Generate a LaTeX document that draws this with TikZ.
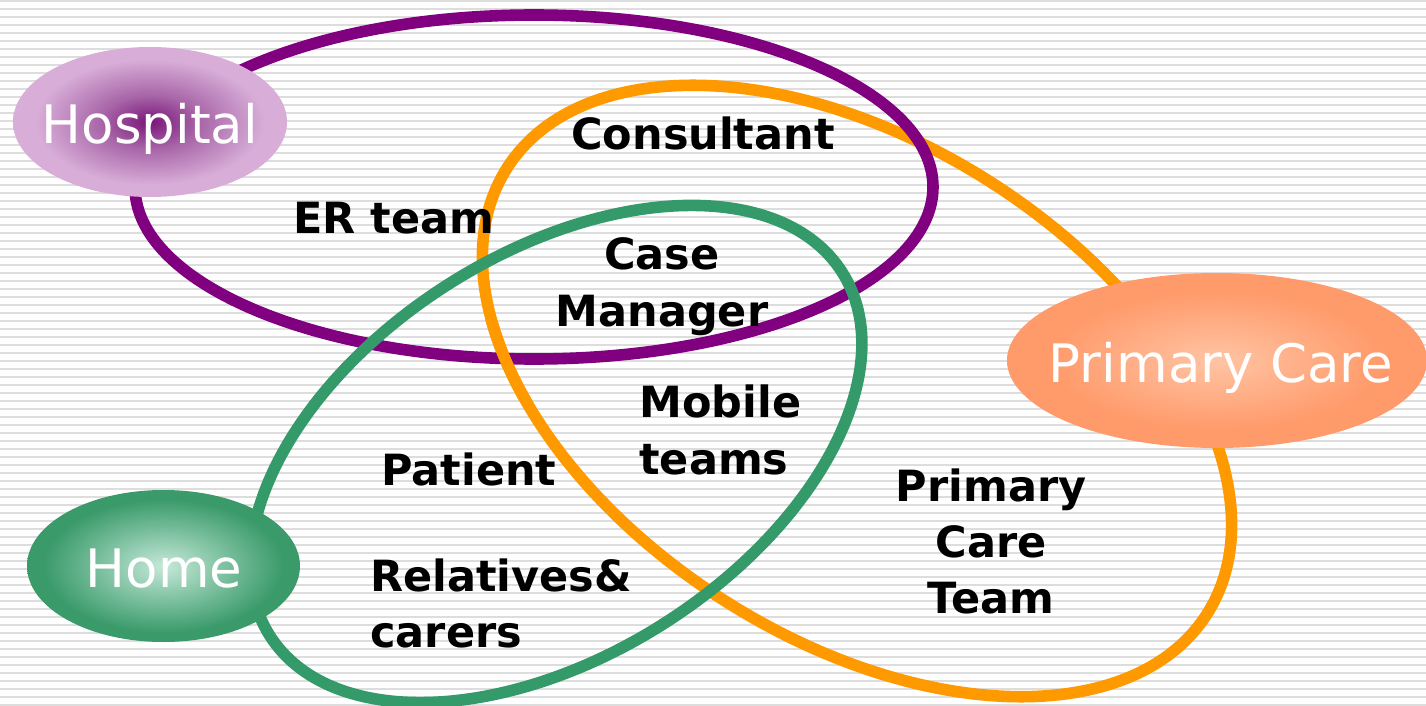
\documentclass[tikz,border=0pt]{standalone}
\usepackage{fontspec}
\setmainfont{DejaVu Sans}
\usetikzlibrary{shapes.geometric}
\definecolor{stripegray}{HTML}{DDDDDD}
\definecolor{ringpurple}{HTML}{800080}
\definecolor{ringorange}{HTML}{FF9900}
\definecolor{ringgreen}{HTML}{359A69}
\definecolor{hospdark}{HTML}{7A157A}
\definecolor{hospmid}{HTML}{A866A8}
\definecolor{hosplight}{HTML}{D8AED8}
\definecolor{homelight}{HTML}{C6E8D8}
\definecolor{homemid}{HTML}{78BE9C}
\definecolor{homedark}{HTML}{3A9A6A}
\definecolor{pclight}{HTML}{FFC4A4}
\definecolor{pcdark}{HTML}{FF9A6A}
\pgfdeclareradialshading{hospshade}{\pgfpoint{0bp}{0bp}}{color(0bp)=(hospdark); color(9bp)=(hospmid); color(21bp)=(hosplight); color(25bp)=(hosplight); color(50bp)=(hosplight)}
\pgfdeclareradialshading{homeshade}{\pgfpoint{0bp}{0bp}}{color(0bp)=(homelight); color(12bp)=(homemid); color(22bp)=(homedark); color(25bp)=(homedark); color(50bp)=(homedark)}
\pgfdeclareradialshading{pcshade}{\pgfpoint{0bp}{0bp}}{color(0bp)=(pclight); color(20bp)=(pcdark); color(25bp)=(pcdark); color(50bp)=(pcdark)}
\begin{document}
\begin{tikzpicture}[x=0.5pt,y=-0.5pt,
  stripe/.style={draw=stripegray, line width=1pt},
  ring/.style={line width=5.8pt},
  lab/.style={ellipse, draw=none, inner sep=0pt},
  labtext/.style={text=white, font=\fontsize{26.5}{30}\selectfont, inner sep=0pt, anchor=base},
  boldlbl/.style={font=\bfseries\fontsize{21.5}{28}\selectfont, inner sep=0pt, text=black}]
\useasboundingbox (0,0) rectangle (1426,706);
\fill[white] (0,0) rectangle (1426,706);
\foreach \k in {0,...,88} \draw[stripe] (0,8*\k+1) -- (1426,8*\k+1);
% big rings
\draw[ring, ringorange, rotate around={-32.5:(857,391)}] (857,391) ellipse [x radius=415, y radius=248];
\draw[ring, ringpurple] (534,187) ellipse [x radius=399, y radius=172];
\begin{scope}
  \clip (460,320) rectangle (560,400);
  \draw[ring, ringorange, rotate around={-32.5:(857,391)}] (857,391) ellipse [x radius=415, y radius=248];
\end{scope}
\draw[ring, ringgreen, rotate around={32.4:(556,454)}] (556,454) ellipse [x radius=339, y radius=201];
% label ellipses
\node[lab, shading=hospshade, minimum width=137pt, minimum height=75pt] (hospital) at (150,122) {};
\node[lab, shading=homeshade, minimum width=136.5pt, minimum height=76pt] (home) at (163.5,566) {};
\node[lab, shading=pcshade, minimum width=210pt, minimum height=87.5pt] (primary) at (1217,360.5) {};
\node[labtext] (hospitalt) at (150,144) {Hospital};
\node[labtext] (homet) at (164,587) {Home};
\node[labtext] (primaryt) at (1221,382) {Primary Care};
% inner labels
\node[boldlbl, anchor=base] (consultant) at (703,150) {Consultant};
\node[boldlbl, anchor=base] (erteam) at (394,234) {ER team};
\node[boldlbl, anchor=base] (case) at (662,270) {Case};
\node[boldlbl, anchor=base] (manager) at (662,327) {Manager};
\node[boldlbl, anchor=base west] (mobile) at (639,417) {Mobile};
\node[boldlbl, anchor=base west] (teams) at (639,474) {teams};
\node[boldlbl, anchor=base] (patient) at (469,485) {Patient};
\node[boldlbl, anchor=base west] (relatives) at (370,591) {Relatives\&};
\node[boldlbl, anchor=base west] (carers) at (370,647) {carers};
\node[boldlbl, anchor=base] (pct1) at (991,501) {Primary};
\node[boldlbl, anchor=base] (pct2) at (991,557) {Care};
\node[boldlbl, anchor=base] (pct3) at (991,613) {Team};
\end{tikzpicture}
\end{document}
